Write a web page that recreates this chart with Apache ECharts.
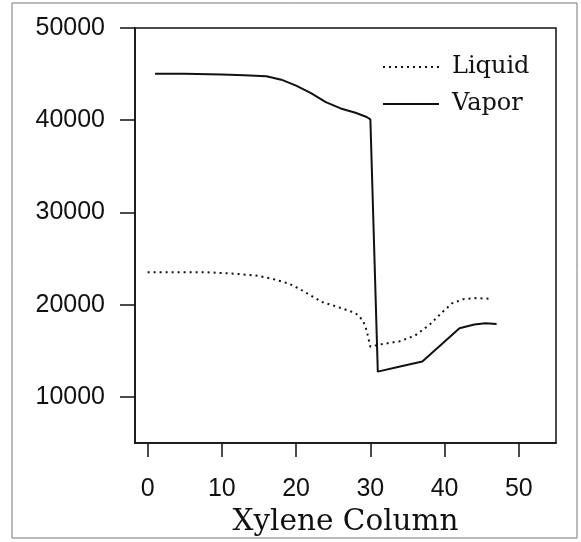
<!DOCTYPE html>
<html>
<head>
<meta charset="utf-8">
<script src="https://cdn.jsdelivr.net/npm/echarts@6/dist/echarts.min.js"></script>
<style>
  html, body { margin: 0; padding: 0; background: #fff; }
  #chart { width: 581px; height: 542px; }
</style>
</head>
<body>
<div id="chart"></div>
<script>
// values: [stage, flow]
var liquidData = [
  [0, 23520], [4, 23520], [8, 23520], [12, 23350], [15, 23120], [17, 22760],
  [19, 22300], [20.5, 21700], [22, 21000], [23.5, 20300], [26, 19650], [28, 19100],
  [29, 18300], [29.5, 17200], [30, 15450], [31, 15650], [34, 16050], [36, 16650],
  [38, 17850], [39.5, 19050], [41, 20150], [42.5, 20600], [44, 20720], [46, 20650]
];
var vaporData = [
  [1, 45050], [5, 45050], [10, 44970], [13, 44880], [16, 44760], [18, 44400],
  [20, 43750], [22, 42950], [24, 41960], [26, 41280], [28, 40810], [29.5, 40350],
  [30, 40100], [31, 12750], [34, 13300], [37, 13850], [42, 17450], [44, 17850],
  [45.5, 18000], [47, 17900]
];
var xTicks = [0, 10, 20, 30, 40, 50];
var yTicks = [10000, 20000, 30000, 40000, 50000];
var seriesNames = ['Liquid', 'Vapor'];

var myChart = echarts.init(document.getElementById('chart'));
var option = {
  backgroundColor: '#fff',
  animation: false,
  graphic: [{ // outer frame of the figure
    type: 'rect',
    shape: { x: 12, y: 3, width: 565, height: 535 },
    style: { fill: 'none', stroke: '#777', lineWidth: 1 }
  }],
  grid: {
    show: true,
    left: 135, top: 28, right: 25, bottom: 96,
    borderColor: '#111', borderWidth: 1.5,
    backgroundColor: 'transparent'
  },
  legend: {
    orient: 'vertical',
    left: 377, top: 50,
    itemWidth: 56, itemHeight: 14, itemGap: 13,
    data: seriesNames,
    itemStyle: { opacity: 0 },
    textStyle: {
      fontFamily: 'DejaVu Serif', fontSize: 24, color: '#111',
      lineHeight: 24, padding: [0, 0, 0, 8]
    }
  },
  xAxis: {
    type: 'value',
    min: -1.7, max: 55,
    name: 'Xylene Column',
    nameLocation: 'middle',
    nameGap: 56,
    nameTextStyle: { fontFamily: 'DejaVu Serif', fontSize: 29.5, color: '#111' },
    axisLine: { show: true, onZero: false, lineStyle: { color: '#111', width: 1.5 } },
    axisTick: { show: true, length: 14, customValues: xTicks, lineStyle: { color: '#111', width: 1.5 } },
    axisLabel: {
      customValues: xTicks, margin: 34,
      fontFamily: 'Liberation Sans', fontSize: 25, color: '#111'
    },
    splitLine: { show: false }
  },
  yAxis: {
    type: 'value',
    min: 5000, max: 50000,
    axisLine: { show: true, onZero: false, lineStyle: { color: '#111', width: 1.5 } },
    axisTick: { show: true, length: 15, customValues: yTicks, lineStyle: { color: '#111', width: 1.5 } },
    axisLabel: {
      customValues: yTicks, margin: 30,
      formatter: function (v) { return String(v); },
      fontFamily: 'Liberation Sans', fontSize: 25, color: '#111'
    },
    splitLine: { show: false }
  },
  series: [{
    name: seriesNames[0],
    type: 'line',
    symbol: 'none',
    data: liquidData,
    lineStyle: { color: '#111', width: 2, type: [2, 4] },
    itemStyle: { color: '#111' }
  }, {
    name: seriesNames[1],
    type: 'line',
    symbol: 'none',
    data: vaporData,
    lineStyle: { color: '#111', width: 2, type: 'solid' },
    itemStyle: { color: '#111' }
  }]
};
myChart.setOption(option);
</script>
</body>
</html>
